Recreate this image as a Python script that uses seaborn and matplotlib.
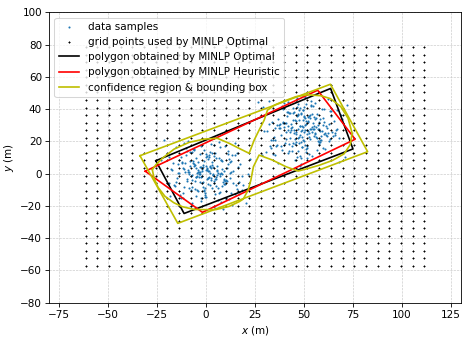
import matplotlib
matplotlib.use("Agg")
import matplotlib.pyplot as plt
import seaborn as sns
import numpy as np
import pandas as pd

# ---------------- data ----------------
sample_x_a = [
    -3.2, 5.1, -8.7, 1.4, 12.3, -0.6, -14.2, 7.8, 3.3, -5.9,
    9.6, -11.4, 0.8, -2.7, 16.1, -7.3, 4.6, -19.5, 2.2, 10.4,
    -4.1, -9.8, 6.7, -1.5, 13.9, -6.2, 0.2, 8.1, -13.0, 3.9,
    -17.2, 11.2, -0.9, 5.8, -3.6, 20.3, -8.1, 1.9, -10.7, 7.1,
    2.8, -5.0, 14.6, -2.1, -12.5, 9.0, -7.7, 0.5, 4.1, -15.8,
    6.3, -1.1, 18.2, -4.8, 3.0, -9.2, 11.8, -6.6, 1.2, -21.4,
    8.6, -3.9, 0.0, 12.9, -11.9, 5.4, -2.4, 15.3, -8.4, 2.6,
    -0.3, 7.4, -13.7, 4.3, -6.9, 10.1, -1.8, -16.6, 6.0, -4.4,
    22.5, -7.0, 1.6, -10.1, 9.3, -2.9, 3.6, -18.3, 13.2, -5.5,
    0.7, 8.8, -12.2, 4.9, -3.3, 17.0, -8.9, 2.3, -0.8, 11.0,
    -14.9, 6.5, -5.2, 1.0, 14.0, -9.5, 3.4, -1.3, 7.9, -23.0,
    10.8, -4.6, 0.4, -11.1, 5.6, -6.4, 16.7, -2.0, 9.9, -15.1,
    2.0, -7.5, 12.6, -0.1, 4.4, -12.8, 8.3, -3.0, 19.1, -9.0,
    1.7, -5.7, 6.9, -17.9, 11.5, -1.6, 3.7, -8.3, 13.5, -4.0,
    0.9, -10.4, 7.2, -2.5, 15.9, -6.8, 5.0, -14.4, 2.9, -0.4,
    9.4, -20.1, 4.0, -7.2, 10.6, -3.5, 1.3, -11.6, 17.6, -5.3,
    6.1, -1.0, 12.0, -9.7, 3.1, -16.2, 8.0, -4.2, 0.1, 14.8,
    -7.9, 2.5, -13.3, 5.2, -2.2, 21.2, -6.0, 9.1, -0.7, -10.9,
    4.7, -3.8, 11.4, -18.8, 1.8, -5.1, 7.6, -12.0, 0.3, 16.0,
    -8.5, 3.5, -1.4, 10.3, -15.4, 6.6, -4.9, 13.0, -2.6, 8.4,
    -19.0, 0.6, 5.5, -7.4, 12.2, -3.1, 2.1, -9.4, 18.5, -6.1,
    1.1, -11.3, 9.7, -0.2, 4.8, -14.0, 7.0, -5.6, 15.0, -2.8,
]
sample_y_a = [
    4.3, -7.6, 1.2, 11.8, -2.9, -13.4, 6.0, 0.7, -9.1, 15.2,
    -4.5, 2.6, 8.9, -16.8, 3.8, -1.0, 12.7, -6.3, 0.1, -11.0,
    7.4, -3.4, 19.6, -8.2, 1.9, 5.7, -14.6, -0.5, 10.2, -5.8,
    2.4, 13.9, -10.3, 4.9, -2.2, -18.0, 8.1, -6.9, 0.9, 16.4,
    -3.7, 9.8, -12.6, 1.5, 6.6, -4.0, -20.2, 3.1, 11.1, -7.8,
    0.3, 14.5, -1.7, -9.9, 5.2, 2.0, -15.7, 7.9, -3.0, 21.0,
    -5.4, 1.0, 10.6, -12.1, 3.6, -0.8, 17.3, -7.1, 4.5, -2.5,
    -11.7, 8.4, 0.5, -4.7, 13.2, -16.0, 2.8, 6.3, -8.8, -1.3,
    9.1, -3.9, 1.8, 15.8, -6.5, -0.2, 4.0, -13.8, 11.6, -9.4,
    3.3, -22.1, 7.0, -1.9, 12.4, -5.1, 0.0, 18.4, -10.6, 5.9,
    -2.7, 9.5, -14.1, 1.4, -6.1, 14.0, -0.6, 3.9, -17.4, 8.6,
    -4.3, 0.4, 10.9, -8.5, 2.3, 6.8, -12.9, -1.6, 16.9, -5.0,
    4.7, -10.0, 1.1, 12.0, -3.2, -15.3, 7.6, 0.8, -7.3, 20.0,
    -2.0, 5.4, -11.4, 3.0, 9.2, -4.9, -0.9, 13.6, -19.3, 2.1,
    -6.7, 11.3, -1.2, 4.2, -9.6, 15.5, -3.6, 0.2, 7.3, -14.3,
    1.7, -5.6, 17.9, -8.0, 3.4, -0.4, 10.4, -12.3, 6.1, -2.3,
    -16.5, 8.0, 0.6, -4.4, 13.0, -7.0, 2.7, -10.8, 5.0, 18.9,
    -1.4, 3.7, -13.1, 9.9, -5.9, 0.0, 14.8, -3.3, -8.6, 6.5,
    -21.0, 1.3, 11.9, -6.0, 4.4, -2.1, 8.3, -15.0, 2.5, 12.8,
    -9.0, -0.3, 5.6, -4.1, 16.2, -11.9, 3.2, 7.7, -1.8, -7.7,
    10.0, -3.1, 1.6, -17.9, 6.9, -5.2, 13.4, 0.9, -10.2, 4.6,
    -2.6, 19.0, -6.6, 2.2, -12.5, 8.7, -0.1, -4.8, 11.5, -14.8,
]
sample_x_b = [
    55.2, 46.6, 60.9, 39.7, 49.8, 34.3, 53.1, 48.5, 57.7, 42.9,
    64.4, 45.2, 51.0, 37.8, 56.3, 47.6, 31.2, 52.6, 59.6, 43.7,
    49.0, 62.1, 41.0, 54.5, 46.1, 68.8, 36.6, 50.7, 44.4, 58.0,
    48.1, 33.1, 55.8, 51.9, 41.8, 61.5, 45.9, 28.4, 53.9, 49.4,
    57.2, 39.0, 50.3, 43.2, 65.6, 47.1, 52.2, 35.4, 56.8, 48.8,
    40.3, 60.1, 51.5, 45.0, 70.7, 42.1, 49.6, 58.6, 32.7, 53.4,
    46.9, 63.2, 39.2, 50.0, 54.9, 45.5, 36.2, 57.0, 48.3, 66.4,
    43.9, 52.0, 38.1, 55.4, 47.4, 61.8, 41.4, 49.2, 29.8, 59.3,
    51.6, 44.6, 56.1, 35.0, 49.9, 64.9, 45.7, 54.1, 40.6, 48.6,
    60.6, 42.5, 50.9, 37.2, 58.4, 46.4, 67.0, 39.9, 53.0, 47.9,
    33.9, 55.6, 49.3, 62.6, 43.4, 51.2, 41.1, 59.0, 26.7, 52.7,
    48.9, 57.9, 36.9, 54.3, 45.1, 63.9, 47.8, 39.5, 56.5, 50.5,
    42.7, 69.6, 46.7, 53.6, 35.7, 49.7, 60.3, 44.2, 51.7, 32.0,
    58.8, 48.2, 55.0, 38.4, 65.3, 46.0, 50.1, 42.0, 61.2, 47.0,
    34.6, 52.9, 57.5, 43.5, 49.5, 68.0, 40.2, 51.4, 47.3, 59.9,
    37.5, 54.7, 45.4, 62.9, 48.7, 42.3, 56.7, 30.6, 50.6, 53.8,
    46.3, 65.9, 39.1, 49.1, 55.3, 44.7, 60.0, 33.4, 52.4, 48.0,
    57.6, 43.0, 63.4, 36.4, 51.1, 48.4, 58.2, 41.6, 71.8, 45.8,
    50.4, 38.7, 54.0, 47.2, 61.9, 32.2, 53.3, 49.0, 44.0, 56.0,
    40.8, 66.7, 46.5, 52.1, 35.1, 59.5, 48.6, 55.7, 44.5, 29.0,
    50.8, 58.1, 42.2, 64.0, 47.5, 53.5, 38.0, 51.3, 45.6, 62.3,
    41.7, 49.9, 57.1, 34.1, 54.8, 46.8, 67.7, 40.0, 52.8, 48.1,
]
sample_y_b = [
    23.1, 35.8, 15.0, 29.1, 41.1, 20.6, 27.6, 9.9, 32.3, 37.7,
    25.5, 18.1, 43.0, 30.5, 22.4, 39.2, 26.7, 12.2, 34.2, 28.9,
    16.6, 46.1, 21.3, 31.2, 24.6, 36.3, 6.5, 27.0, 40.6, 19.5,
    29.8, 15.7, 33.9, 26.3, 44.7, 23.9, 32.5, 11.5, 37.1, 20.8,
    27.4, 41.7, 17.8, 30.7, 25.2, 14.0, 35.2, 28.2, 22.1, 48.6,
    19.2, 31.8, 26.9, 38.5, 10.6, 29.5, 33.1, 23.6, 17.3, 42.4,
    27.9, 21.7, 39.9, 25.9, 34.8, 8.4, 30.0, 20.2, 36.7, 27.2,
    14.3, 32.9, 24.2, 43.6, 18.9, 28.5, 38.0, 22.8, 26.6, 40.3,
    16.1, 33.5, 29.0, 11.8, 35.5, 23.3, 45.8, 26.1, 31.1, 19.9,
    25.1, 37.4, 13.5, 30.3, 21.1, 41.4, 27.7, 17.6, 34.5, 5.0,
    32.0, 24.9, 39.6, 20.4, 28.0, 15.2, 36.0, 26.4, 44.2, 22.6,
    29.6, 18.6, 33.7, 11.0, 27.3, 38.9, 23.7, 31.6, 14.7, 47.4,
    26.0, 34.1, 22.0, 42.1, 17.1, 28.8, 24.4, 37.8, 9.4, 30.9,
    20.9, 40.8, 27.5, 16.9, 32.7, 25.7, 35.0, 12.6, 29.4, 43.3,
    23.0, 36.6, 19.4, 27.1, 39.3, 7.2, 31.4, 24.8, 33.3, 15.9,
    28.4, 41.9, 21.5, 30.6, 26.2, 18.3, 37.2, 13.1, 34.4, 27.6,
    46.6, 24.0, 32.2, 16.5, 29.7, 25.4, 40.1, 21.0, 35.9, 11.2,
    27.8, 22.3, 38.7, 18.0, 31.0, 5.8, 33.8, 26.8, 42.7, 19.8,
    30.1, 14.4, 28.6, 36.4, 23.5, 44.9, 21.2, 27.0, 17.0, 34.7,
    25.6, 39.7, 10.1, 31.9, 20.7, 29.9, 37.6, 24.3, 19.0, 41.2,
    32.6, 26.5, 13.8, 35.7, 22.9, 45.3, 28.1, 17.4, 33.0, 25.1,
    38.4, 20.0, 30.4, 12.4, 27.4, 36.8, 21.8, 43.8, 25.0, 29.3,
]

grid_x_vals = [-61.4, -55.4, -49.5, -43.5, -37.6, -31.6, -25.6, -19.7, -13.7, -7.8,
               -1.8, 4.2, 10.1, 16.1, 22.0, 28.0, 34.0, 39.9, 45.9, 51.8,
               57.8, 63.8, 69.7, 75.7, 81.6, 87.6, 93.6, 99.5, 105.5, 111.4]
grid_y_vals = [-57.3, -52.6, -47.9, -43.3, -38.6, -33.9, -29.2, -24.6, -19.9, -15.2,
               -10.5, -5.9, -1.2, 3.5, 8.2, 12.8, 17.5, 22.2, 26.9, 31.6,
               36.2, 40.9, 45.6, 50.3, 54.9, 59.6, 64.3, 69.0, 73.6, 78.3]

opt_x = [-25.6, -11.2, 75.0, 63.6, -25.6]
opt_y = [8.0, -24.7, 15.3, 52.8, 8.0]

heur_x = [-31.0, -1.8, 76.1, 57.0, -31.0]
heur_y = [1.5, -24.0, 21.3, 51.7, 1.5]

box_x = [-33.7, -14.4, 82.5, 63.5, -33.7]
box_y = [11.1, -30.8, 13.6, 55.4, 11.1]

conf_x = [-27.4, -25.6, -22.3, -16.3, -8.6, -1.0, 5.8, 11.8, 17.8, 22.0,
          24.6, 27.1, 29.7, 31.4, 35.0, 39.0, 45.9, 51.8, 58.6, 63.5,
          68.8, 72.5, 74.6, 73.6, 70.5, 64.6, 57.8, 51.5, 47.0, 40.8,
          33.9, 27.1, 24.2, 22.9, 21.5, 19.0, 16.9, 11.8, 5.0, -1.0,
          -6.0, -12.1, -16.5, -21.0, -24.5, -26.5, -27.4]
conf_y = [2.5, 5.5, 9.5, 15.2, 19.4, 21.4, 21.9, 18.8, 15.1, 12.6,
          20.8, 27.0, 33.2, 39.4, 42.5, 44.6, 47.7, 48.9, 48.3, 46.5,
          41.5, 34.3, 25.0, 18.0, 12.3, 8.2, 5.2, 3.0, 1.6, 4.3,
          8.4, 11.5, 4.3, -4.0, -10.2, -15.8, -17.4, -20.3, -22.3, -22.3,
          -22.2, -20.5, -18.0, -14.0, -8.5, -3.0, 2.5]

x_ticks = [-75, -50, -25, 0, 25, 50, 75, 100, 125]
y_ticks = [-80, -60, -40, -20, 0, 20, 40, 60, 80, 100]

# ---------------- plot ----------------
DPI = 75
fig = plt.figure(figsize=(468 / DPI, 337 / DPI), dpi=DPI)
ax = fig.add_axes([0.1053, 0.1018, 0.8791, 0.8617])

samples = pd.DataFrame({"x": sample_x_a + sample_x_b, "y": sample_y_a + sample_y_b})
gx, gy = np.meshgrid(grid_x_vals, grid_y_vals)
grid_df = pd.DataFrame({"x": gx.ravel(), "y": gy.ravel()})

sns.scatterplot(data=samples, x="x", y="y", ax=ax, color="#1f77b4", marker="o",
                s=4, linewidth=0, label="data samples", zorder=2)
sns.scatterplot(data=grid_df, x="x", y="y", ax=ax, color="black", marker="+",
                s=8, linewidth=1.0, label="grid points used by MINLP Optimal", zorder=2)

sns.lineplot(x=opt_x, y=opt_y, sort=False, estimator=None, ax=ax, color="black",
             linewidth=1.6, label="polygon obtained by MINLP Optimal", zorder=3)
sns.lineplot(x=heur_x, y=heur_y, sort=False, estimator=None, ax=ax, color="red",
             linewidth=1.6, label="polygon obtained by MINLP Heuristic", zorder=3)
sns.lineplot(x=box_x, y=box_y, sort=False, estimator=None, ax=ax, color="#bfbf00",
             linewidth=1.6, label="confidence region & bounding box", zorder=3)
sns.lineplot(x=conf_x, y=conf_y, sort=False, estimator=None, ax=ax, color="#bfbf00",
             linewidth=1.6, zorder=3)

ax.set_xlim(-80, 130)
ax.set_ylim(-80, 100)
ax.set_xticks(x_ticks)
ax.set_yticks(y_ticks)
ax.set_xlabel("$x$ (m)")
ax.set_ylabel("$y$ (m)")
ax.set_axisbelow(True)
ax.grid(True, linestyle="--", linewidth=0.6, color="#c8c8c8")

handles, labels = ax.get_legend_handles_labels()
order = ["data samples", "grid points used by MINLP Optimal",
         "polygon obtained by MINLP Optimal", "polygon obtained by MINLP Heuristic",
         "confidence region & bounding box"]
hl = {l: h for h, l in zip(handles, labels)}
ax.legend([hl[o] for o in order], order, loc="upper left")

fig.savefig("out.png", dpi=DPI)
